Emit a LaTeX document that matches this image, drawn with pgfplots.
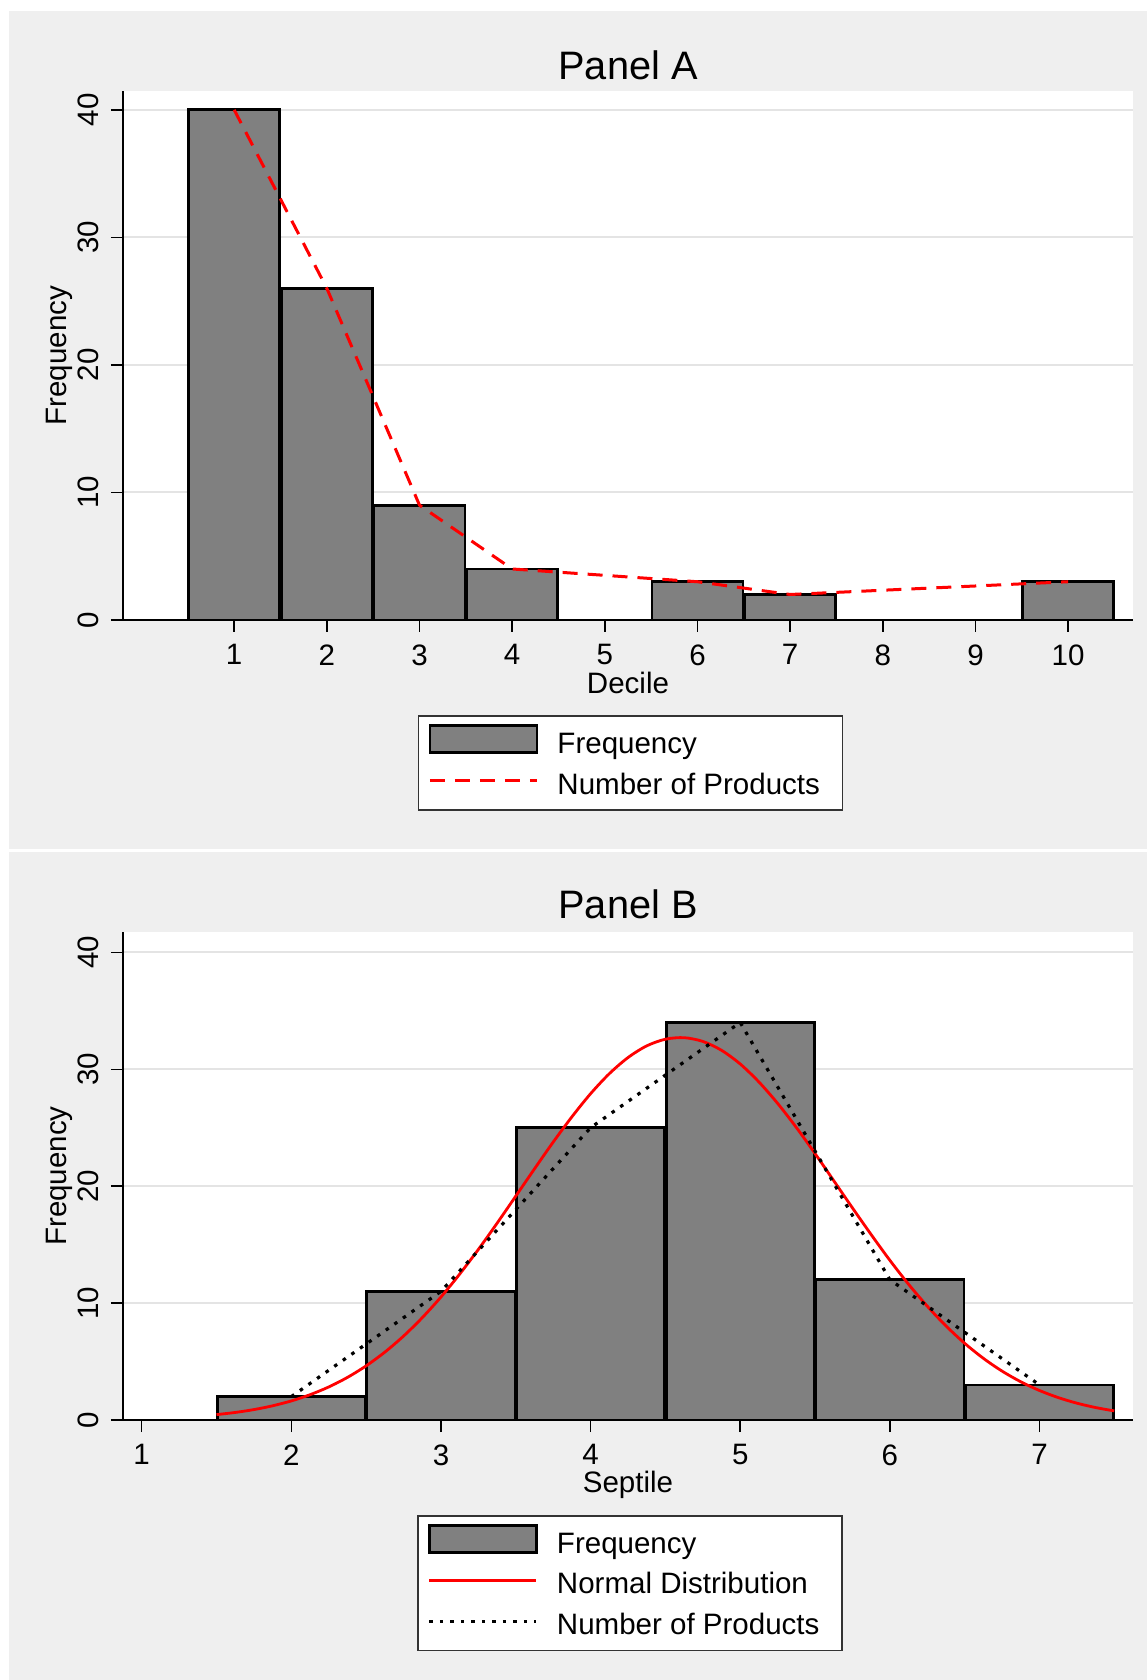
\documentclass[border=0pt]{standalone}
\usepackage{fontspec}
\setmainfont{Liberation Sans}
\usepackage{pgfplots}
\pgfplotsset{compat=1.18}
\definecolor{bggray}{RGB}{239,239,239}
\definecolor{gridgray}{RGB}{228,228,228}
\definecolor{bargray}{RGB}{128,128,128}
\newcommand{\smallf}{\fontsize{8.4}{10}\selectfont}
\newcommand{\titlef}{\fontsize{11.3}{13.5}\selectfont}
\pgfplotsset{
  statastyle/.style={
    scale only axis,
    width=101mm,
    axis lines=left,
    axis line style={-, black, line width=0.15mm},
    enlargelimits=false,
    ymin=0,
    ytick={0,10,20,30,40},
    tick align=outside,
    major tick length=1.2mm,
    tick style={black, line width=0.15mm},
    ymajorgrids,
    grid style={gridgray, line width=0.2mm},
    axis background/.style={fill=white},
    tick label style={font=\smallf},
    /pgf/number format/assume math mode=true,
    yticklabel style={rotate=90, anchor=south},
    label style={font=\smallf},
    every axis title shift=0pt,
    title style={font=\titlef, anchor=center, yshift=0pt},
    legend cell align=left,
    legend style={anchor=north west, draw=black!80, line width=0.15mm, fill=white,
      inner xsep=1.0mm, inner ysep=0.65mm, row sep=0pt, font=\smallf,
      nodes={inner sep=0.6mm, text height=2.5mm, text depth=0.35mm},
      /tikz/every odd column/.append style={column sep=1.3mm}},
  },
  barlegend/.style={legend image code/.code={\draw[##1] (0mm,-1.0mm) rectangle (10.7mm,1.7mm);}},
  linelegend/.style={legend image code/.code={\draw[##1] (0mm,0.25mm) -- (10.7mm,0.25mm);}},
}
\begin{document}
\begin{tikzpicture}
\path[use as bounding box] (0,0) rectangle (114.7mm,168mm);
\fill[white] (0,0) rectangle (114.7mm,168mm);
\fill[bggray] (0.9mm,83.07mm) rectangle (114.7mm,166.9mm);
\fill[bggray] (0.9mm,0mm) rectangle (114.7mm,82.8mm);

% Panel A
\begin{axis}[statastyle,
  at={(12.3mm,106mm)}, anchor=south west,
  height=52.85mm,
  xmin=-0.2, xmax=10.7, ymax=41.44,
  xtick={1,2,3,4,5,6,7,8,9,10},
  title={Panel A}, title style={at={(axis description cs:0.5,1.05)}},
  xlabel={Decile}, xlabel style={at={(axis description cs:0.5,-0.119)}, anchor=center},
  ylabel={Frequency}, ylabel style={at={(axis description cs:-0.0634,0.5)}, anchor=center},
  legend style={at={(axis description cs:0.2918,-0.1803)}},
]
\addplot[ybar, bar width=9.11mm, bar shift=0pt, fill=bargray, draw=black, line width=0.28mm, barlegend]
  coordinates {(1,40) (2,26) (3,9) (4,4) (6,3) (7,2) (10,3)};
\addlegendentry{Frequency}
\addplot[red, line width=0.3mm, dash pattern=on 1.5mm off 1.0mm, linelegend]
  coordinates {(1,40) (2,26) (3,9) (4,4) (6,3) (7,2) (10,3)};
\addlegendentry{Number of Products\hspace*{0.65mm}}
\end{axis}

% Panel B
\begin{axis}[statastyle,
  at={(12.3mm,26mm)}, anchor=south west,
  height=48.8mm,
  xmin=0.875, xmax=7.625, ymax=41.74,
  xtick={1,2,3,4,5,6,7},
  title={Panel B}, title style={at={(axis description cs:0.5,1.056)}},
  xlabel={Septile}, xlabel style={at={(axis description cs:0.5,-0.132)}, anchor=center},
  ylabel={Frequency}, ylabel style={at={(axis description cs:-0.0634,0.5)}, anchor=center},
  legend style={at={(axis description cs:0.2911,-0.1951)}},
]
\addplot[ybar, bar width=14.82mm, bar shift=0pt, fill=bargray, draw=black, line width=0.28mm, barlegend]
  coordinates {(2,2) (3,11) (4,25) (5,34) (6,12) (7,3)};
\addlegendentry{Frequency}
\addplot[red, line width=0.28mm, smooth, linelegend]
  coordinates {(1.5,0.461) (1.625,0.645) (1.75,0.891) (1.875,1.215) (2.0,1.632) (2.125,2.163)
  (2.25,2.826) (2.375,3.644) (2.5,4.632) (2.625,5.806) (2.75,7.178) (2.875,8.751)
  (3.0,10.52) (3.125,12.48) (3.25,14.59) (3.375,16.83) (3.5,19.15) (3.625,21.48)
  (3.75,23.77) (3.875,25.93) (4.0,27.91) (4.125,29.62) (4.25,31.00) (4.375,32.00)
  (4.5,32.57) (4.625,32.70) (4.75,32.38) (4.875,31.62) (5.0,30.45) (5.125,28.91)
  (5.25,27.08) (5.375,25.02) (5.5,22.79) (5.625,20.47) (5.75,18.14) (5.875,15.86)
  (6.0,13.66) (6.125,11.61) (6.25,9.735) (6.375,8.047) (6.5,6.559) (6.625,5.274)
  (6.75,4.181) (6.875,3.270) (7.0,2.522) (7.125,1.919) (7.25,1.439) (7.375,1.065) (7.5,0.777)};
\addlegendentry{Normal Distribution}
\addplot[black, line width=0.32mm, dash pattern=on 0.35mm off 0.7mm, linelegend]
  coordinates {(2,2) (3,11) (4,25) (5,34) (6,12) (7,3)};
\addlegendentry{Number of Products\hspace*{0.65mm}}
\end{axis}
\end{tikzpicture}
\end{document}
